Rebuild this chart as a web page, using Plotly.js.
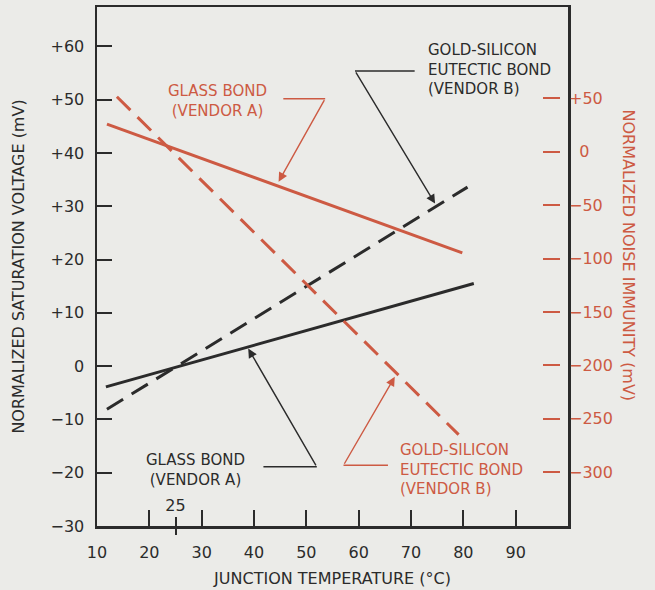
<!DOCTYPE html>
<html><head><meta charset="utf-8">
<script src="https://cdn.plot.ly/plotly-3.0.1.min.js"></script>
<style>html,body{margin:0;padding:0;background:#ebebe8;}</style>
</head><body><div id="chart" style="width:655px;height:590px;"></div>
<script>
// ---- data ----
const glassVsatTemp = [11.7, 82.0];
const glassVsat = [-3.9, 15.5];
const eutecticVsatTemp = [11.9, 80.8];
const eutecticVsat = [-8.1, 33.6];
const glassNoiseTemp = [11.9, 79.8];
const glassNoise = [26.0, -94.7];
const eutecticNoiseTemp = [13.8, 79.1];
const eutecticNoise = [51.6, -264.9];

const xTicks = [10, 20, 30, 40, 50, 60, 70, 80, 90];
const xMarkTick = [25];
const xMarkTickText = ['25'];
const vsatTicks = [-30, -20, -10, 0, 10, 20, 30, 40, 50, 60];
const vsatTickText = ['\u221230', '\u221220', '\u221210', '0', '+10', '+20', '+30', '+40', '+50', '+60'];
const noiseTicks = [50, 0, -50, -100, -150, -200, -250, -300];
const noiseTickText = ['+50', '\u20070', '\u221250', '\u2212100', '\u2212150', '\u2212200', '\u2212250', '\u2212300'];

const labelGlassNoise = ['GLASS BOND', '(VENDOR A)'];
const labelEutecticVsat = ['GOLD-SILICON', 'EUTECTIC BOND', '(VENDOR B)'];
const labelGlassVsat = ['GLASS BOND', '(VENDOR A)'];
const labelEutecticNoise = ['GOLD-SILICON', 'EUTECTIC BOND', '(VENDOR B)'];

const xTitle = 'JUNCTION TEMPERATURE (\u00B0C)';
const yTitle = 'NORMALIZED SATURATION VOLTAGE (mV)';
const y2Title = 'NORMALIZED NOISE IMMUNITY (mV)';

// ---- style ----
const RED = '#cd5a43';
const INK = '#2b2b2b';
const BG = '#ebebe8';
const FONT = 'DejaVu Sans, Verdana, sans-serif';
const DASH = '19px,10px';

const traces = [
  {x: glassVsatTemp, y: glassVsat, mode: 'lines', line: {color: INK, width: 3}, xaxis: 'x', yaxis: 'y', hoverinfo: 'skip'},
  {x: eutecticVsatTemp, y: eutecticVsat, mode: 'lines', line: {color: INK, width: 3, dash: DASH}, xaxis: 'x', yaxis: 'y', hoverinfo: 'skip'},
  {x: glassNoiseTemp, y: glassNoise, mode: 'lines', line: {color: RED, width: 3}, xaxis: 'x', yaxis: 'y2', hoverinfo: 'skip'},
  {x: eutecticNoiseTemp, y: eutecticNoise, mode: 'lines', line: {color: RED, width: 3, dash: DASH}, xaxis: 'x', yaxis: 'y2', hoverinfo: 'skip'},
  {x: [], y: [], xaxis: 'x2', yaxis: 'y3', mode: 'lines', hoverinfo: 'skip'},
  {x: [], y: [], xaxis: 'x3', yaxis: 'y', mode: 'lines', hoverinfo: 'skip'}
];

const X_RANGE = [10, 100];
const Y_RANGE = [-30, 67.4];
const Y2_RANGE = [-350.5, 135.7];

function blockLabel(lines, x, y, anchor, color) {
  return {
    text: lines.join('<br>'), x: x, y: y, xref: 'x', yref: 'y', xanchor: anchor, yanchor: 'middle',
    align: anchor === 'left' ? 'left' : 'center',
    showarrow: false, font: {family: FONT, size: 15, color: color}
  };
}
function leader(tail, tip, corner, color) {
  return {
    arrow: {text: '', x: tip[0], y: tip[1], ax: tail[0], ay: tail[1], xref: 'x', yref: 'y', axref: 'x', ayref: 'y',
      showarrow: true, arrowhead: 2, arrowsize: 1.3, arrowwidth: 1.4, arrowcolor: color, standoff: 0, startstandoff: 0},
    shape: {type: 'line', xref: 'x', yref: 'y', x0: corner[0], y0: corner[1], x1: tail[0], y1: tail[1], line: {color: color, width: 1.5}}
  };
}

const L1 = leader([53.6, 50.2], [44.7, 34.6], [45.6, 50.2], RED);
const L2 = leader([59.3, 55.4], [74.6, 30.5], [70.7, 55.4], INK);
const L3 = leader([52.0, -18.9], [38.9, 3.3], [41.8, -18.9], INK);
const L4 = leader([57.1, -18.6], [66.9, -2.0], [65.6, -18.6], RED);

const annotations = [
  blockLabel(labelGlassNoise, 33.1, 49.7, 'center', RED),
  blockLabel(labelEutecticVsat, 72.85, 55.6, 'left', INK),
  blockLabel(labelGlassVsat, 28.8, -19.5, 'center', INK),
  blockLabel(labelEutecticNoise, 67.5, -19.45, 'left', RED),
  L1.arrow, L2.arrow, L3.arrow, L4.arrow,
  {text: y2Title, xref: 'paper', yref: 'paper', x: 1.153, y: 0.522, textangle: 90, showarrow: false,
    font: {family: FONT, size: 16, color: RED}}
];

const axisCommon = {showgrid: false, zeroline: false};
const layout = {
  width: 655, height: 590,
  paper_bgcolor: BG, plot_bgcolor: BG,
  margin: {l: 97, r: 87, t: 7, b: 64},
  showlegend: false,
  font: {family: FONT, size: 16, color: INK},
  xaxis: Object.assign({}, axisCommon, {
    range: X_RANGE, tickvals: xTicks, ticks: 'inside', ticklen: 16, tickwidth: 2, tickcolor: INK,
    showline: true, linewidth: 2.5, linecolor: INK, mirror: true, ticklabelstandoff: 10,
    tickfont: {size: 16, color: INK},
    title: {text: xTitle, standoff: 12, font: {size: 16, color: INK}}
  }),
  xaxis2: Object.assign({}, axisCommon, {
    range: X_RANGE, overlaying: 'x', anchor: 'free', position: 0, side: 'top',
    tickvals: xMarkTick, ticktext: xMarkTickText, ticks: 'outside', ticklen: 9, tickwidth: 2, tickcolor: INK,
    showline: false, tickfont: {size: 16, color: INK}
  }),
  xaxis3: Object.assign({}, axisCommon, {
    range: X_RANGE, overlaying: 'x', anchor: 'y', side: 'bottom',
    tickvals: xMarkTick, ticks: 'outside', ticklen: 8, tickwidth: 2, tickcolor: INK,
    showline: false, showticklabels: false
  }),
  yaxis: Object.assign({}, axisCommon, {
    range: Y_RANGE, tickvals: vsatTicks, ticktext: vsatTickText, ticks: 'inside', ticklen: 15, tickwidth: 2, tickcolor: INK,
    showline: true, linewidth: 2.5, linecolor: INK, mirror: true, ticklabelstandoff: 7,
    tickfont: {size: 16, color: INK},
    title: {text: yTitle, standoff: 22, font: {size: 16, color: INK}}
  }),
  yaxis2: Object.assign({}, axisCommon, {
    range: Y2_RANGE, overlaying: 'y', side: 'right', anchor: 'x',
    tickvals: noiseTicks, ticktext: noiseTickText, ticks: '', showline: false,
    tickfont: {size: 16, color: RED}, ticklabelstandoff: 0
  }),
  yaxis3: Object.assign({}, axisCommon, {
    range: Y2_RANGE, overlaying: 'y', side: 'right', anchor: 'free', position: 0.9835,
    tickvals: noiseTicks, ticks: 'inside', ticklen: 17, tickwidth: 2, tickcolor: RED,
    showline: false, showticklabels: false
  }),
  shapes: [L1.shape, L2.shape, L3.shape, L4.shape],
  annotations: annotations
};

Plotly.newPlot('chart', traces, layout, {staticPlot: true, displayModeBar: false});
</script>
</body></html>
